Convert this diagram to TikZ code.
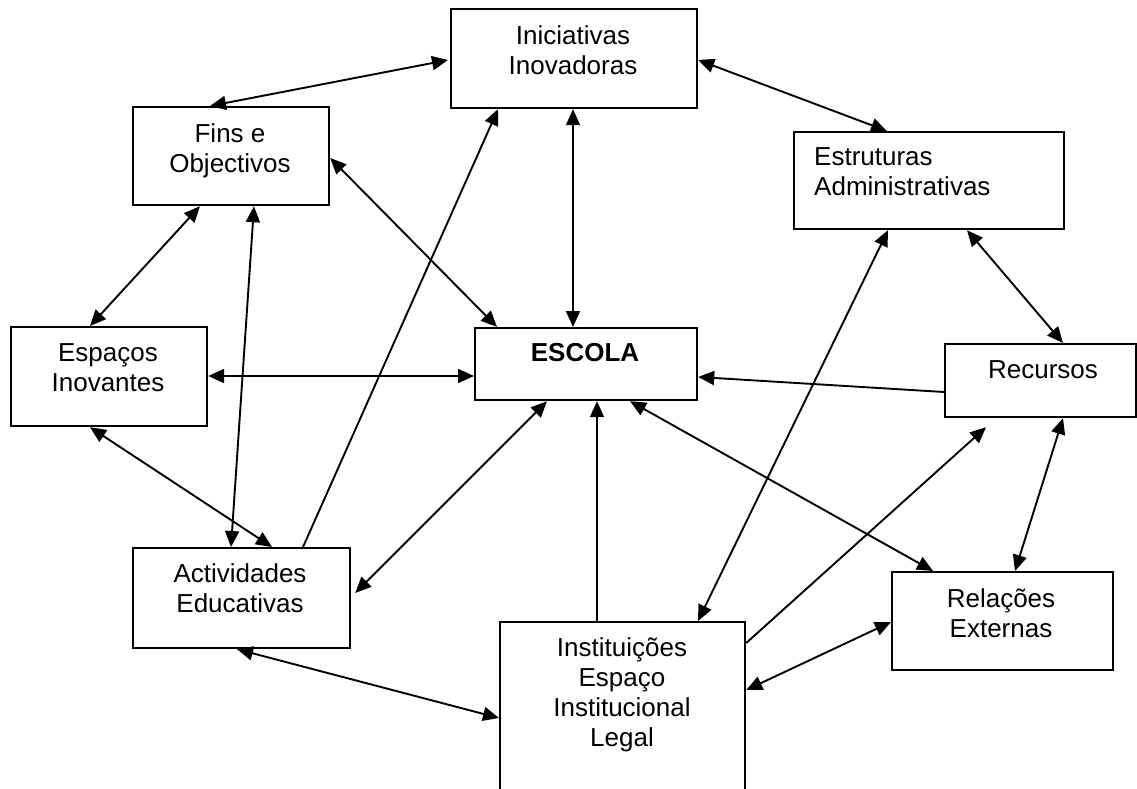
\documentclass[tikz,border=0pt]{standalone}
\usepackage{fontspec}
\setmainfont{Liberation Sans}
\usetikzlibrary{arrows.meta,calc}
\begin{document}
\begin{tikzpicture}[x=1pt,y=-1pt,
  box/.style={draw, line width=2.2pt, inner sep=0pt, anchor=north west},
  lbl/.style={font=\fontsize{26}{30}\selectfont, align=center, inner sep=0pt, anchor=north},
  link/.style={line width=1.9pt, {Triangle[length=16pt,width=14pt]}-{Triangle[length=16pt,width=14pt]}},
  oneway/.style={line width=1.9pt, -{Triangle[length=16pt,width=14pt]}}]
\useasboundingbox (0,0) rectangle (1137,789);
\clip (0,0) rectangle (1137,789);

% boxes
\node[box, minimum width=246pt, minimum height=99pt] (ini) at (450,8) {};
\node[box, minimum width=196pt, minimum height=98pt] (fins) at (132,106) {};
\node[box, minimum width=270pt, minimum height=97pt] (estr) at (793,131) {};
\node[box, minimum width=196pt, minimum height=99pt] (esp) at (10,326) {};
\node[box, minimum width=222pt, minimum height=72pt] (esc) at (474,327) {};
\node[box, minimum width=191pt, minimum height=73pt] (rec) at (944,343) {};
\node[box, minimum width=217pt, minimum height=100pt] (act) at (132,547) {};
\node[box, minimum width=245pt, minimum height=190pt] (inst) at (499,621) {};
\node[box, minimum width=221pt, minimum height=98pt] (rel) at (891,571) {};

% labels
\node[lbl] (ini-t) at (573,25) {Iniciativas\\Inovadoras};
\node[lbl] (fins-t) at (230,123) {Fins e\\Objectivos};
\node[lbl, align=left, anchor=north west] (estr-t) at (814,147) {Estruturas\\Administrativas};
\node[lbl] (esp-t) at (108,343) {Espaços\\Inovantes};
\node[lbl, font=\fontsize{26}{30}\selectfont\bfseries] (esc-t) at (585,343) {ESCOLA};
\node[lbl] (rec-t) at (1043,360) {Recursos};
\node[lbl] (act-t) at (240,563) {Actividades\\Educativas};
\node[lbl] (inst-t) at (622,637) {Instituições\\Espaço\\Institucional\\Legal};
\node[lbl] (rel-t) at (1001,588) {Relações\\Externas};

% connectors
\draw[link] ($(ini.north west)+(-2,52)$) -- ($(fins.north west)+(78,0)$);
\draw[link] ($(ini.north east)+(0,52)$) -- ($(estr.north west)+(94,0)$);
\draw[link] ($(ini.south west)+(123,0)$) -- ($(esc.north west)+(99,0)$);
\draw[link] ($(fins.north east)+(0,52)$) -- ($(esc.north west)+(23,0)$);
\draw[link] ($(fins.south west)+(68,0)$) -- ($(esp.north west)+(80,0)$);
\draw[link] ($(fins.south west)+(122,0)$) -- ($(act.north west)+(99,0)$);
\draw[link] ($(esp.north east)+(0,50)$) -- ($(esc.north west)+(0,49)$);
\draw[link] ($(esp.south west)+(80,0)$) -- ($(act.north west)+(140,0)$);
\draw[oneway] ($(act.north west)+(171,0)$) -- ($(ini.south west)+(48,0)$);
\draw[link] ($(esc.south west)+(73,0)$) -- ($(act.north east)+(4,46)$);
\draw[link] ($(act.south west)+(105,0)$) -- ($(inst.north west)+(0,97)$);
\draw[oneway] ($(inst.north west)+(98,0)$) -- ($(esc.south west)+(123,0)$);
\draw[link] ($(esc.south west)+(156,0)$) -- ($(rel.north west)+(42,0)$);
\draw[oneway] ($(rec.north west)+(0,49)$) -- ($(esc.north east)+(0,50)$);
\draw[link] ($(estr.south west)+(174,0)$) -- ($(rec.north west)+(119,0)$);
\draw[link] ($(estr.south west)+(95,0)$) -- ($(inst.north west)+(199,0)$);
\draw[oneway] ($(inst.north east)+(0,22)$) -- ($(rec.south west)+(42,9)$);
\draw[link] ($(rec.south west)+(119,0)$) -- ($(rel.north west)+(124,0)$);
\draw[link] ($(rel.north west)+(0,51)$) -- ($(inst.north east)+(0,69)$);
\end{tikzpicture}
\end{document}
